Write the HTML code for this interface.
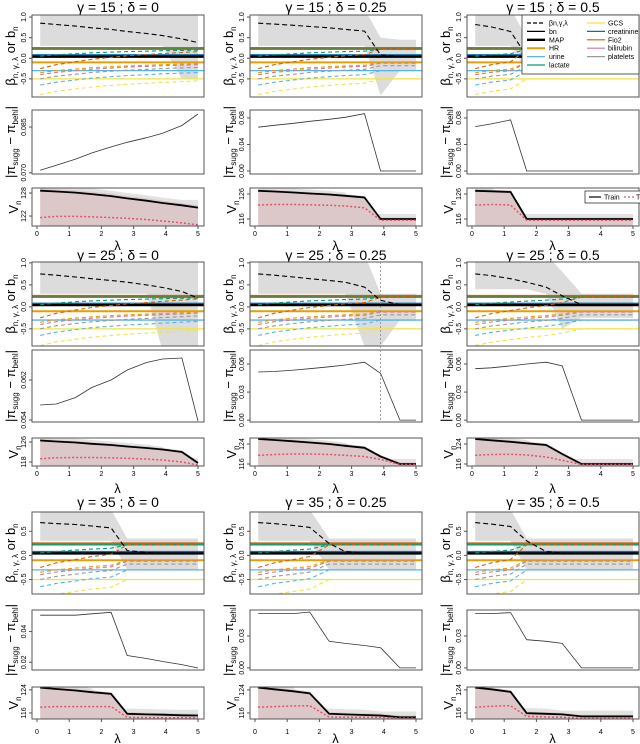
<!DOCTYPE html>
<html><head><meta charset="utf-8"><style>
html,body{margin:0;padding:0;background:#fff;}
svg{display:block;font-family:"Liberation Sans",sans-serif;}
</style></head><body>
<svg id="fig" width="640" height="744" viewBox="0 0 640 744"></svg>
<script>
const lambdas=[0.1,0.6,1.2,1.7,2.3,2.8,3.4,3.9,4.5,5.0];
const titles=["γ = 15 ;  δ = 0","γ = 15 ;  δ = 0.25","γ = 15 ;  δ = 0.5","γ = 25 ;  δ = 0","γ = 25 ;  δ = 0.25","γ = 25 ;  δ = 0.5","γ = 35 ;  δ = 0","γ = 35 ;  δ = 0.25","γ = 35 ;  δ = 0.5"];
// black dashed beta_{n,gamma,lambda}
const betaBlack=[
[.85,.82,.78,.74,.70,.65,.60,.55,.47,.38],
[.85,.83,.80,.77,.74,.70,.66,.08,.05,.05],
[.82,.76,.65,.05,.05,.05,.05,.05,.05,.05],
[.75,.72,.68,.64,.60,.56,.50,.44,.35,.20],
[.75,.72,.68,.64,.60,.56,.45,.15,.05,.05],
[.75,.71,.64,.56,.45,.25,.05,.05,.05,.05],
[.68,.66,.64,.61,.57,.10,.06,.05,.05,.05],
[.68,.66,.62,.58,.25,.08,.05,.05,.05,.05],
[.68,.65,.60,.30,.08,.05,.05,.05,.05,.05]];
// shrinkage progress of coloured coefficient paths toward b_n
const progress=[
[0,.2,.35,.48,.58,.66,.72,.78,.83,.87],
[0,.2,.35,.48,.58,.66,.72,1,1,1],
[0,.2,.35,1,1,1,1,1,1,1],
[0,.22,.38,.5,.6,.68,.74,.8,.86,.92],
[0,.22,.38,.5,.6,.68,.74,1,1,1],
[0,.2,.35,.48,.6,.75,1,1,1,1],
[0,.2,.35,.48,.58,1,1,1,1,1],
[0,.2,.35,.48,1,1,1,1,1,1],
[0,.2,.35,1,1,1,1,1,1,1]];
const bandHi=[
[1.2,1.2,1.2,1.2,1.2,1.2,1.2,1.2,1.2,1.2],
[1.2,1.2,1.2,1.2,1.2,1.2,1.2,.5,.45,.45],
[1.2,1.2,1.2,.5,.45,.45,.45,.45,.45,.45],
[1.2,1.2,1.2,1.2,1.2,1.2,1.2,1.2,1.2,1.2],
[1.2,1.2,1.2,1.2,1.2,1.2,1.2,.3,.3,.3],
[1.2,1.2,1.2,1.2,1.2,.8,.3,.3,.3,.3],
[.95,.95,.95,.95,.95,.35,.35,.35,.35,.35],
[.95,.95,.95,.95,.35,.35,.35,.35,.35,.35],
[.95,.95,.95,.35,.35,.35,.35,.35,.35,.35]];
const bandLo=[
[.3,.3,.3,.3,.3,.3,.3,.3,-.5,-.5],
[.3,.3,.3,.3,.3,.3,.3,-.9,-.3,-.3],
[.3,.3,.3,-.3,-.3,-.3,-.3,-.3,-.3,-.3],
[.3,.3,.3,.3,.3,.3,.3,-1,-1,-1],
[.3,.3,.3,.3,.3,.3,-.9,-.9,-.3,-.3],
[.4,.4,.4,.4,.3,-.5,-.25,-.25,-.25,-.25],
[.3,.3,.3,.3,.3,-.3,-.3,-.3,-.3,-.3],
[.3,.3,.3,.3,-.3,-.3,-.3,-.3,-.3,-.3],
[.3,.3,.3,-.3,-.3,-.3,-.3,-.3,-.3,-.3]];
const piDiff=[
[.0708,.0725,.0745,.0765,.0785,.0800,.0815,.0830,.0855,.0893],
[.066,.069,.072,.075,.078,.081,.0865,0,0,0],
[.067,.071,.077,0,0,0,0,0,0,0],
[.0570,.0572,.0585,.0605,.0620,.0640,.0655,.0662,.0664,.0538],
[.0515,.052,.0535,.055,.057,.059,.062,.050,0,0],
[.055,.056,.058,.060,.062,.058,0,0,0,0],
[.0506,.0506,.0506,.0515,.0525,.0244,.0225,.0205,.0185,.0163],
[.051,.051,.051,.0525,.025,.023,.021,.019,0,0],
[.051,.051,.052,.0265,.025,.023,0,0,0,0]];
const piDom=[[.0696,.0906],[-.0045,.092],[-.0045,.092],[.0536,.068],[-.002,.075],[-.002,.075],[.015,.054],[-.002,.0544],[-.002,.0544]];
const piTicks=[[.070,.085],[0,.04,.08],[0,.04,.08],[.054,.062],[0,.03,.06],[0,.03,.06],[.02,.04],[0,.03],[0,.03]];
const piLabels=[["0.070","0.085"],["0.00","0.04","0.08"],["0.00","0.04","0.08"],["0.054","0.062"],["0.00","0.03","0.06"],["0.00","0.03","0.06"],["0.02","0.04"],["0.00","0.03"],["0.00","0.03"]];
const vTrain=[
[128.6,128.4,128.1,127.7,127.2,126.6,126.0,125.4,124.8,124.2],
[127.3,127.0,126.6,126.2,125.8,125.3,124.6,116,116,116],
[127.3,127.1,126.8,116,116,116,116,116,116,116],
[126.6,126.2,125.8,125.3,124.8,124.2,123.6,123.0,122.0,117.6],
[126.0,125.6,125.1,124.6,124.0,123.3,122.5,119.0,116,116],
[126.0,125.5,124.9,124.3,123.6,120.0,116,116,116,116],
[124.8,124.3,123.8,123.2,122.6,115.7,115.5,115.4,115.2,115.1],
[124.8,124.2,123.5,122.8,115.7,115.5,115.3,115.1,114.5,114.5],
[124.8,124.2,123.3,115.9,115.7,115.5,114.8,114.8,114.8,114.8]];
const vTest=[
[121.6,121.9,121.9,121.8,121.6,121.4,121.1,120.7,120.2,119.7],
[121.6,121.8,121.8,121.7,121.5,121.2,120.5,115.5,115.5,115.5],
[121.6,121.8,121.6,115.5,115.5,115.5,115.5,115.5,115.5,115.5],
[119.3,119.7,119.8,119.8,119.7,119.5,119.2,118.8,118.0,116.8],
[119.5,119.8,120.0,120.0,119.8,119.5,119.0,117.8,115.8,115.8],
[119.5,119.8,119.9,119.6,118.8,117.5,115.8,115.8,115.8,115.8],
[118.0,118.2,118.2,118.2,118.2,114.5,114.4,114.3,114.3,114.3],
[118.0,118.2,118.4,118.5,114.6,114.5,114.5,114.5,114.2,114.2],
[118.0,118.3,118.5,114.8,114.6,114.5,114.2,114.2,114.2,114.2]];
const vDom=[[119.4,129.3],[113.2,128.4],[113.2,128.4],[116.4,127.6],[115.2,126.4],[115.2,126.4],[113.9,125.0],[113.9,125.0],[113.9,125.0]];
const vTicks=[[122,128],[116,126],[116,126],[118,126],[116,124],[116,124],[116,124],[116,124],[116,124]];
const vars=["lactate","Fio2","HR","urine","GCS","bilirubin","platelets"];
const varStart=[.05,-.25,-.35,-.65,-.88,-.40,-.50];
const varEnd=[.22,.22,-.10,-.30,-.50,-.12,-.18];
const varColor=["#009E73","#D55E00","#E69F00","#56B4E9","#F0E442","#CC79A7","#999999"];
const bNames=["Fio2","lactate","creatinine","MAP","HR","urine","GCS"];
const bValues=[.25,.22,.07,.04,-.10,-.30,-.50];
const bColors=["#D55E00","#009E73","#0072B2","#000000","#E69F00","#56B4E9","#F0E442"];
const bWidths=[2,1.3,2.4,2.4,2,1.3,1.3];

const NS="http://www.w3.org/2000/svg";
const svg=document.getElementById('fig');
function el(tag,attrs,parent,text){const e=document.createElementNS(NS,tag);for(const k in attrs)e.setAttribute(k,attrs[k]);if(text!==undefined)e.textContent=text;(parent||svg).appendChild(e);return e;}
const cols=[[32,204],[250,422],[467,639]];
const rows=[{top:[15,97],mid:[110,174],bot:[188,226],title:12,tick:233,xl:250,ytop:[-0.94,1.05],yt:[-0.5,0,0.5,1.0]},
{top:[262,346],mid:[350,422],bot:[438,466],title:260,tick:473,xl:493,ytop:[-0.89,1.02],yt:[-0.5,0,0.5,1.0]},
{top:[512,594],mid:[610,670],bot:[687,719],title:507,tick:731,xl:743,ytop:[-0.8,0.9],yt:[-0.5,0,0.5]}];
const fmt=v=>v.toFixed(1);
function poly(pts){return pts.map(p=>p[0].toFixed(1)+","+p[1].toFixed(1)).join(" ");}

for(let p=0;p<9;p++){
  const r=rows[Math.floor(p/3)],c=cols[p%3];
  const L=c[0],R=c[1];
  const xs=v=>L+5+(v/5)*(R-L-11);
  const g=el('g',{},svg);
  
  
  const clipId='clip'+p;
  const defs=el('defs',{},g);
  ['t','m','b'].forEach((k,i)=>{const yy=[r.top,r.mid,r.bot][i];const cp=el('clipPath',{id:clipId+k},defs);el('rect',{x:L,y:yy[0],width:R-L,height:yy[1]-yy[0]},cp);});
  const t=el('text',{x:(L+R)/2,y:r.title,'text-anchor':'middle','font-size':14},g,titles[p]);
  
  
  // ---- top panel
  const [ty0,ty1]=r.top,[d0,d1]=r.ytop;
  const ys=v=>ty1-(v-d0)/(d1-d0)*(ty1-ty0);
  const tg=el('g',{'clip-path':'url(#'+clipId+'t)'},g);
  const band=[];lambdas.forEach((l,i)=>band.push([xs(l),ys(bandHi[p][i])]));
  for(let i=lambdas.length-1;i>=0;i--)band.push([xs(lambdas[i]),ys(bandLo[p][i])]);
  const bp=el('polygon',{points:poly(band),fill:'#dcdcdc'},tg);
  
  
  bValues.forEach((b,i)=>{const ln=el('line',{x1:L,x2:R,y1:ys(b),y2:ys(b),stroke:bColors[i],'stroke-width':bWidths[i]},tg);
    
    });
  vars.forEach((v,j)=>{const pts=lambdas.map((l,i)=>[xs(l),ys(varStart[j]+progress[p][i]*(varEnd[j]-varStart[j]))]);
    const pl=el('polyline',{points:poly(pts),fill:'none',stroke:varColor[j],'stroke-width':1.1,'stroke-dasharray':'4,3'},tg);
    
    });
  const bk=el('polyline',{points:poly(lambdas.map((l,i)=>[xs(l),ys(betaBlack[p][i])])),fill:'none',stroke:'#000','stroke-width':1.1,'stroke-dasharray':'5,3'},tg);
  
  
  el('rect',{x:L,y:ty0,width:R-L,height:ty1-ty0,fill:'none',stroke:'#555','stroke-width':1},g);
  r.yt.forEach(v=>{el('line',{x1:L-3,x2:L,y1:ys(v),y2:ys(v),stroke:'#555'},g);
    el('text',{x:0,y:0,transform:`translate(${L-6},${ys(v)}) rotate(-90)`,'text-anchor':'middle','font-size':7},g,v===0?"0.0":fmt(v));});
  const yl=el('text',{transform:`translate(${L-17},${(ty0+ty1)/2}) rotate(-90)`,'text-anchor':'middle','font-size':13},g);
  
  
  el('tspan',{},yl,'β');el('tspan',{'font-size':8,dy:3},yl,'n, γ, λ');el('tspan',{dy:-3},yl,' or b');el('tspan',{'font-size':8,dy:3},yl,'n');
  // ---- middle panel
  const [my0,my1]=r.mid,[m0,m1]=piDom[p];
  const ym=v=>my1-(v-m0)/(m1-m0)*(my1-my0);
  const mg=el('g',{'clip-path':'url(#'+clipId+'m)'},g);
  const ml=el('polyline',{points:poly(lambdas.map((l,i)=>[xs(l),ym(piDiff[p][i])])),fill:'none',stroke:'#333','stroke-width':0.8},mg);
  
  
  el('rect',{x:L,y:my0,width:R-L,height:my1-my0,fill:'none',stroke:'#555'},g);
  piTicks[p].forEach((v,i)=>{el('line',{x1:L-3,x2:L,y1:ym(v),y2:ym(v),stroke:'#555'},g);
    el('text',{transform:`translate(${L-6},${ym(v)}) rotate(-90)`,'text-anchor':'middle','font-size':7},g,piLabels[p][i]);});
  const ml2=el('text',{transform:`translate(${L-17},${(my0+my1)/2}) rotate(-90)`,'text-anchor':'middle','font-size':13},g);
  
  
  el('tspan',{},ml2,'|π');el('tspan',{'font-size':8,dy:3},ml2,'sugg');el('tspan',{dy:-3},ml2,' − π');el('tspan',{'font-size':8,dy:3},ml2,'behl');el('tspan',{dy:-3},ml2,'|');
  if(p===4){const vl=el('line',{x1:xs(3.9),x2:xs(3.9),y1:ty0,y2:my1,stroke:'#888','stroke-dasharray':'2,2','stroke-width':0.8},g);
    
    }
  // ---- bottom panel
  const [by0,by1]=r.bot,[v0,v1]=vDom[p];
  const yv=v=>by1-(v-v0)/(v1-v0)*(by1-by0);
  const bg=el('g',{'clip-path':'url(#'+clipId+'b)'},g);
  const gb=[];lambdas.forEach((l,i)=>gb.push([xs(l),yv(vTrain[p][Math.min(i+1,9)]+2)]));
  gb.push([xs(5),by1],[xs(0.1),by1]);
  el('polygon',{points:poly(gb),fill:'#e2e2e2'},bg);
  const pb=[];lambdas.forEach((l,i)=>pb.push([xs(l),yv(vTrain[p][i]+0.6)]));
  pb.push([xs(5),by1],[xs(0.1),by1]);
  const pk=el('polygon',{points:poly(pb),fill:'#dcc8c8'},bg);
  
  
  const tr=el('polyline',{points:poly(lambdas.map((l,i)=>[xs(l),yv(vTrain[p][i])])),fill:'none',stroke:'#000','stroke-width':1.8},bg);
  
  
  const te=el('polyline',{points:poly(lambdas.map((l,i)=>[xs(l),yv(vTest[p][i])])),fill:'none',stroke:'#DF536B','stroke-width':1.5,'stroke-dasharray':'2,2'},bg);
  
  
  el('rect',{x:L,y:by0,width:R-L,height:by1-by0,fill:'none',stroke:'#555'},g);
  vTicks[p].forEach(v=>{el('line',{x1:L-3,x2:L,y1:yv(v),y2:yv(v),stroke:'#555'},g);
    el('text',{transform:`translate(${L-6},${yv(v)}) rotate(-90)`,'text-anchor':'middle','font-size':7},g,String(v));});
  const vl2=el('text',{transform:`translate(${L-14},${(by0+by1)/2}) rotate(-90)`,'text-anchor':'middle','font-size':13},g);
  
  
  el('tspan',{},vl2,'V');el('tspan',{'font-size':8,dy:3},vl2,'n');
  [0,1,2,3,4,5].forEach(v=>{el('line',{x1:xs(v),x2:xs(v),y1:by1,y2:by1+3,stroke:'#555'},g);
    el('text',{x:xs(v),y:r.tick+3,'text-anchor':'middle','font-size':7},g,String(v));});
  const xl=el('text',{x:xs(2.5),y:r.xl,'text-anchor':'middle','font-size':13},g,'λ');
  
  
}
// ---- legend
const lg=el('g',{},svg);


el('rect',{x:522,y:15,width:117,height:59,fill:'#fff',stroke:'#333','stroke-width':0.8},lg);
const leg1=[["βn,γ,λ","#000",'4,2',1.2],["bn","#000",'',1.2],["MAP","#000",'',2.4],["HR","#E69F00",'',2],["urine","#56B4E9",'',1.2],["lactate","#009E73",'',1.2]];
const leg2=[["GCS","#F0E442"],["creatinine","#0072B2"],["Fio2","#D55E00"],["bilirubin","#CC79A7"],["platelets","#999999"]];
leg1.forEach((e,i)=>{const y=23+i*8.4;el('line',{x1:527,x2:545,y1:y,y2:y,stroke:e[1],'stroke-width':e[3],'stroke-dasharray':e[2]},lg);
  const tx=el('text',{x:549,y:y+2.5,'font-size':7},lg,e[0]);
  
  });
leg2.forEach((e,i)=>{const y=23+i*8.4;el('line',{x1:587,x2:605,y1:y,y2:y,stroke:e[1],'stroke-width':1.2},lg);
  const tx=el('text',{x:608,y:y+2.5,'font-size':7},lg,e[0]);
  
  });
const lg2=el('g',{},svg);


el('rect',{x:585,y:191,width:56,height:12,fill:'#fff',stroke:'#333','stroke-width':0.8},lg2);
el('line',{x1:589,x2:601,y1:197,y2:197,stroke:'#000','stroke-width':1.2},lg2);
el('text',{x:604,y:199.5,'font-size':7},lg2,'Train');
el('line',{x1:624,x2:634,y1:197,y2:197,stroke:'#DF536B','stroke-width':1.2,'stroke-dasharray':'2,2'},lg2);
el('text',{x:636,y:199.5,'font-size':7},lg2,'Test');
</script>
</body></html>
